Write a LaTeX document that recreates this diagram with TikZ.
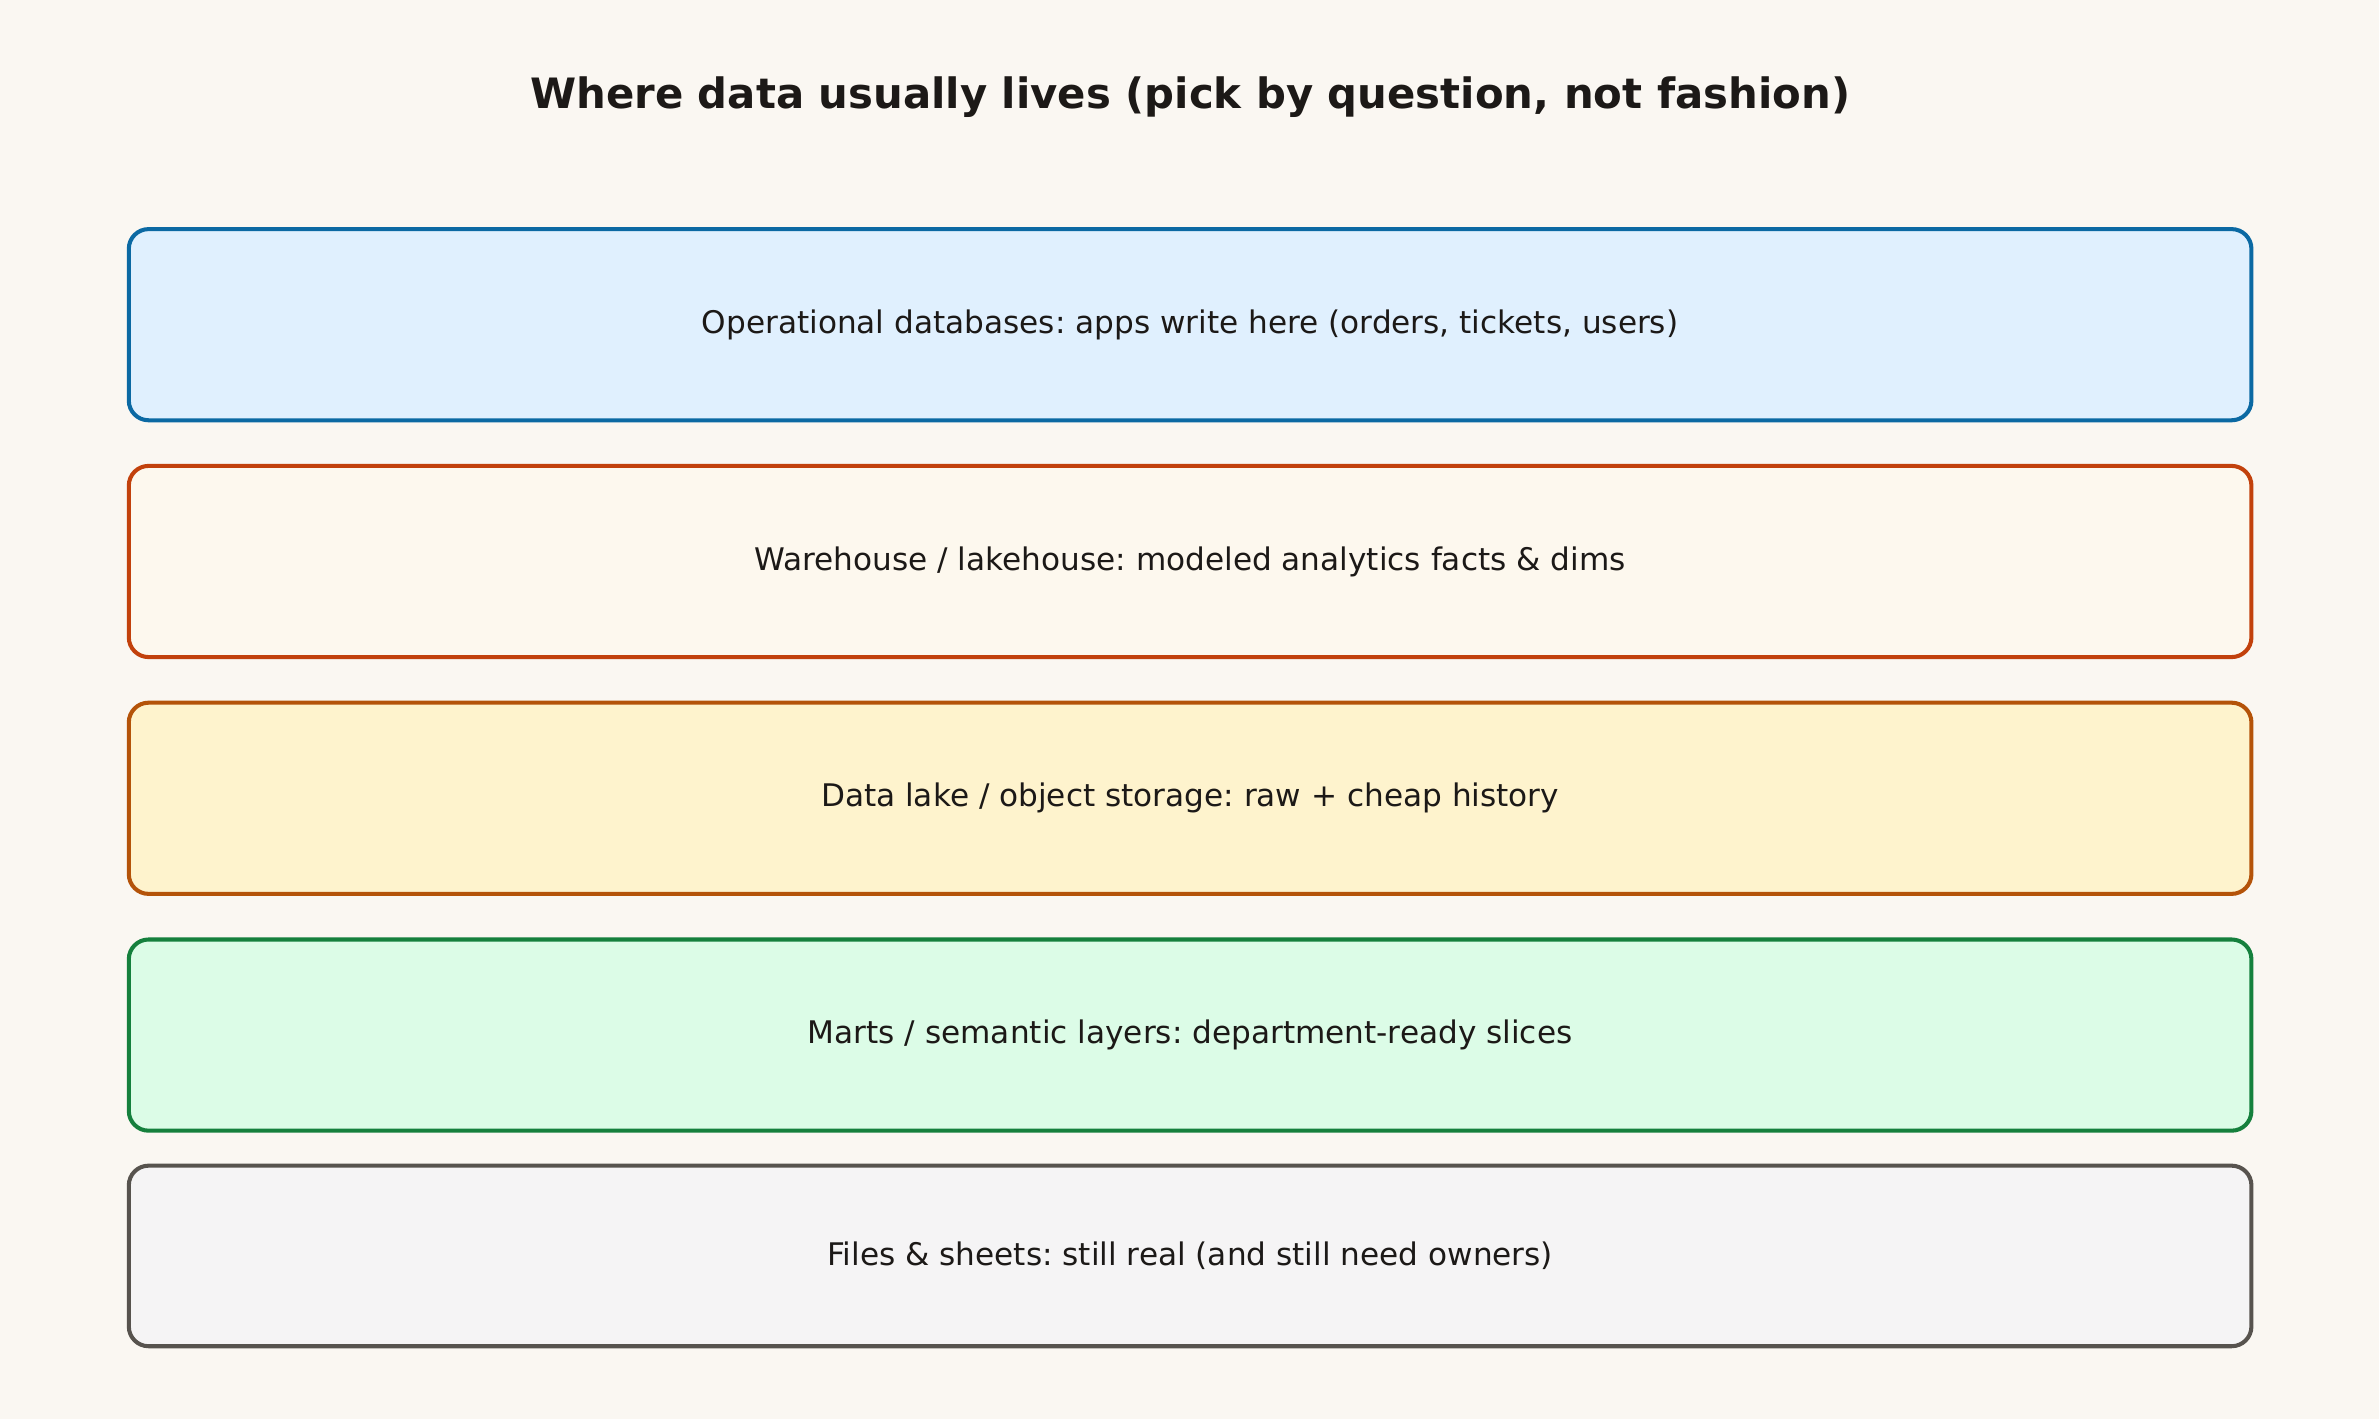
\documentclass[tikz,border=0pt]{standalone}
\usepackage{fontspec}
\setmainfont{DejaVu Sans}
\frenchspacing
\usepackage{tikz}
\usetikzlibrary{positioning}
\usepackage{xcolor}
\definecolor{paper}{HTML}{FAF7F2}
\definecolor{ink}{HTML}{1C1917}
\definecolor{opsline}{HTML}{0B69A3}
\definecolor{opsfill}{HTML}{E0F0FE}
\definecolor{whline}{HTML}{C2410C}
\definecolor{whfill}{HTML}{FDF8EE}
\definecolor{lakeline}{HTML}{B45309}
\definecolor{lakefill}{HTML}{FEF3CD}
\definecolor{martline}{HTML}{15803D}
\definecolor{martfill}{HTML}{DCFCE7}
\definecolor{fileline}{HTML}{57534E}
\definecolor{filefill}{HTML}{F5F4F5}

\begin{document}
\begin{tikzpicture}[
		layerbox/.style={rectangle, rounded corners=3.25mm, line width=1.9pt, minimum width=349.75mm, minimum height=31.5mm, text=ink, font=\fontsize{14.6}{17}\selectfont},
		titlenode/.style={text=ink, font=\fontsize{19.6}{23}\selectfont\bfseries},
		node distance=6.85mm,
		]
		% Background
		\fill[paper] (0,0) rectangle (392mm,-233.75mm);
		\useasboundingbox (0,0) rectangle (392mm,-233.75mm);
		
		%Nodes
		\node[titlenode]                             (title)     at (196.1mm,-16mm) {Where data usually lives (pick by question, not fashion)};
		\node[layerbox, draw=opsline, fill=opsfill]   (ops)       at (196.1mm,-53.5mm) {Operational databases: apps write here (orders, tickets, users)};
		\node[layerbox, draw=whline, fill=whfill]     (warehouse) [below=of ops]       {Warehouse / lakehouse: modeled analytics facts \& dims};
		\node[layerbox, draw=lakeline, fill=lakefill] (lake)      [below=of warehouse] {Data lake / object storage: raw + cheap history};
		\node[layerbox, draw=martline, fill=martfill] (marts)     [below=of lake]      {Marts / semantic layers: department-ready slices};
		\node[layerbox, draw=fileline, fill=filefill, minimum height=29.75mm] (files) [below=5.1mm of marts] {Files \& sheets: still real (and still need owners)};
		
	\end{tikzpicture}
\end{document}
